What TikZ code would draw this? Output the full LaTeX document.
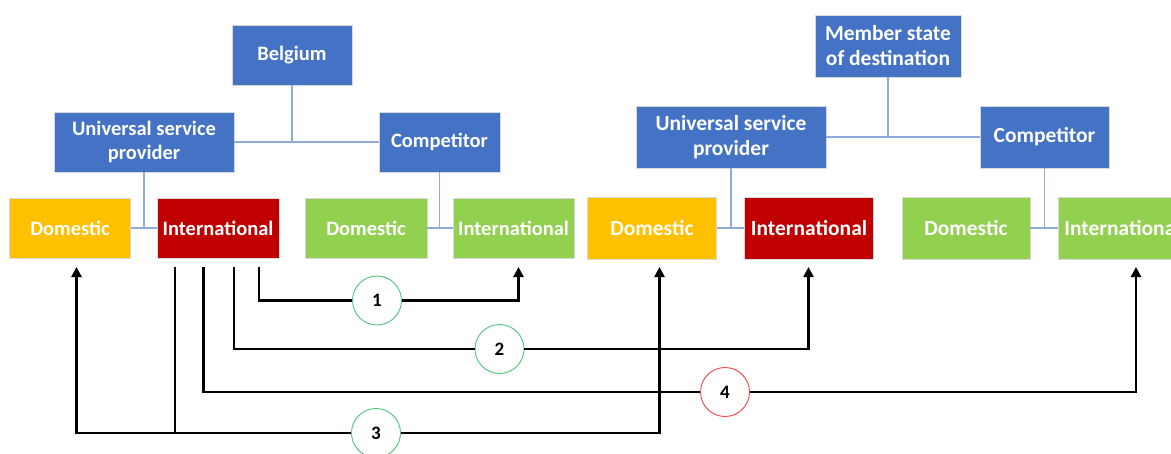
\documentclass[tikz,border=0pt]{standalone}
\usepackage{fontspec}
\setmainfont{Carlito}
\usetikzlibrary{arrows.meta,calc}
\definecolor{boxblue}{HTML}{4472C4}
\definecolor{boxyellow}{HTML}{FFC000}
\definecolor{boxred}{HTML}{C00000}
\definecolor{boxgreen}{HTML}{92D050}
\definecolor{treeline}{HTML}{8FAADC}
\definecolor{ringgreen}{HTML}{4CC47A}
\definecolor{ringred}{HTML}{FF4040}
\tikzset{
  box/.style={rectangle, draw=white!85!black, line width=0.6pt, text=white,
    font=\bfseries\fontsize{20.5}{24}\selectfont, align=center, inner sep=0pt},
  boxR/.style={box, font=\bfseries\fontsize{21.5}{25}\selectfont},
  tree/.style={draw=treeline, line width=1.6pt},
  conn/.style={draw=black, line width=2.8pt},
  arr/.style={conn, -{Triangle[length=10pt,width=10pt]}},
  ring/.style={circle, fill=white, line width=0.9pt, minimum size=49pt, inner sep=0pt,
    font=\bfseries\fontsize{19}{22}\selectfont},
}
\begin{document}
\begin{tikzpicture}[x=1pt,y=-1pt]
\useasboundingbox (0,0) rectangle (1171,453);
\clip (0,0) rectangle (1171,453);
% left group
\node[box, fill=boxblue, minimum width=120pt, minimum height=60pt] (bel) at (292,55) {Belgium};
\node[box, fill=boxblue, minimum width=180pt, minimum height=60pt] (uspL) at (144,142) {Universal service\\provider};
\node[box, fill=boxblue, minimum width=121pt, minimum height=60pt] (compL) at (439.5,142) {Competitor};
\node[box, fill=boxyellow, minimum width=121pt, minimum height=60pt] (domL) at (70,228) {Domestic};
\node[box, fill=boxred, minimum width=122pt, minimum height=60pt] (intL) at (218,228) {International};
\node[box, fill=boxgreen, minimum width=122pt, minimum height=60pt] (cdomL) at (366,228) {Domestic};
\node[box, fill=boxgreen, minimum width=121pt, minimum height=60pt] (cintL) at (513.5,228) {International};
% right group
\node[boxR, fill=boxblue, minimum width=146pt, minimum height=62pt] (mem) at (888,46) {Member state\\of destination};
\node[boxR, fill=boxblue, minimum width=190pt, minimum height=62pt] (uspR) at (731,137) {Universal service\\provider};
\node[boxR, fill=boxblue, minimum width=129pt, minimum height=62pt] (compR) at (1044.5,137) {Competitor};
\node[boxR, fill=boxyellow, minimum width=129pt, minimum height=62pt] (domR) at (652,228) {Domestic};
\node[boxR, fill=boxred, minimum width=129pt, minimum height=62pt] (intR) at (809,228) {International};
\node[boxR, fill=boxgreen, minimum width=128pt, minimum height=62pt] (cdomR) at (966,228) {Domestic};
\node[boxR, fill=boxgreen, minimum width=129pt, minimum height=62pt] (cintR) at (1122.5,228) {International};
% tree lines
\draw[tree] (uspL.east) -- (compL.west);
\draw[tree] (bel.south) -- (bel.south |- uspL.east);
\draw[tree] (domL.east) -- (intL.west);
\draw[tree] (uspL.south) -- (uspL.south |- domL.east);
\draw[tree] (cdomL.east) -- (cintL.west);
\draw[tree] (compL.south) -- (compL.south |- cdomL.east);
\draw[tree] (uspR.east) -- (compR.west);
\draw[tree] (mem.south) -- (mem.south |- uspR.east);
\draw[tree] (domR.east) -- (intR.west);
\draw[tree] (uspR.south) -- (uspR.south |- domR.east);
\draw[tree] (cdomR.east) -- (cintR.west);
\draw[tree] (compR.south) -- (compR.south |- cdomR.east);
% rings
\node[ring, draw=ringgreen] (r1) at (377,300.5) {1};
\node[ring, draw=ringgreen] (r2) at (499.5,349) {2};
\node[ring, draw=ringgreen] (r3) at (376,433) {3};
\node[ring, draw=ringred] (r4) at (725,392) {4};
% start and end points
\coordinate (s1) at (259,267);
\coordinate (s2) at (234,267);
\coordinate (s4) at (203.5,267);
\coordinate (s3) at (175,267);
\coordinate (t1) at (518.5,267);
\coordinate (t2) at (808.5,267);
\coordinate (t3a) at (76.5,267);
\coordinate (t3b) at (659.5,267);
\coordinate (t4) at (1136,267);
% connectors
\draw[conn] (s1) |- (r1.west);
\draw[arr] (r1.east) -| (t1);
\draw[conn] (s2) |- (r2.west);
\draw[arr] (r2.east) -| (t2);
\draw[conn] (s4) |- (r4.west);
\draw[arr] (r4.east) -| (t4);
\draw[arr] (r3.west) -| (t3a);
\draw[arr] (r3.east) -| (t3b);
\draw[conn] (s3) -- (s3 |- r3.west);
\end{tikzpicture}
\end{document}
